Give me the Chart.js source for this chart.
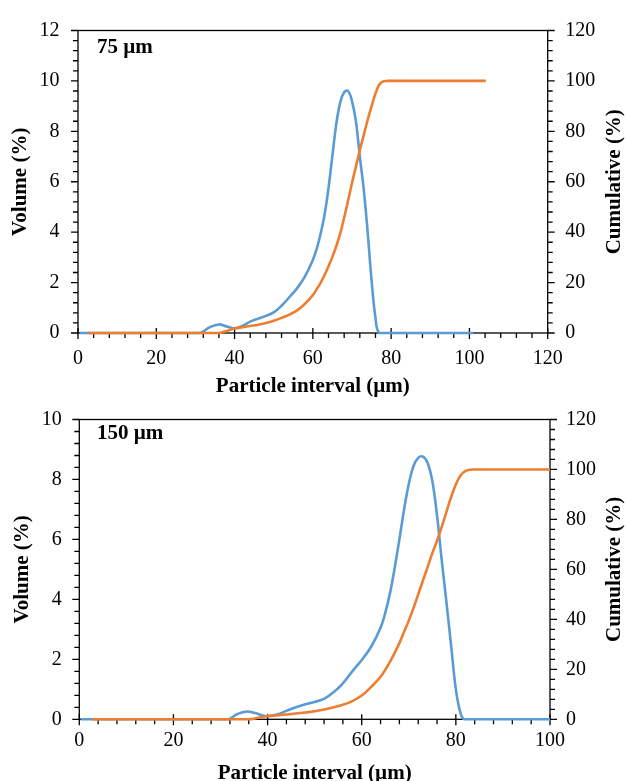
<!DOCTYPE html>
<html><head><meta charset="utf-8">
<script src="https://cdn.jsdelivr.net/npm/chart.js@4.4.1/dist/chart.umd.min.js"></script>
<style>
html,body{margin:0;padding:0;background:#fff;overflow:hidden;width:627px;height:781px;}
canvas{position:absolute;left:0;}
#c1{top:0;}
#c2{top:390px;}
</style></head><body>
<canvas id="c1" width="627" height="410"></canvas>
<canvas id="c2" width="627" height="410"></canvas>
<script>
// ---- Data ----
const topPanelLabel = '75 µm';
const botPanelLabel = '150 µm';

const topVolSize  = [0.5, 31, 33.5, 36, 38, 40, 42, 44, 46, 48, 50, 52, 54, 56, 58, 60, 61, 62, 63, 64, 65, 66, 67, 68, 69, 70, 71, 72, 73, 74, 75, 76, 77, 80, 101];
const topVolValue = [0, 0, 0.22, 0.34, 0.26, 0.19, 0.28, 0.45, 0.57, 0.68, 0.82, 1.08, 1.42, 1.78, 2.25, 2.9, 3.35, 3.95, 4.7, 5.75, 7.05, 8.3, 9.15, 9.55, 9.6, 9.2, 8.4, 7.0, 5.7, 4.0, 2.1, 0.6, 0, 0, 0];

const topCumSize  = [2.6, 36, 38, 40, 42, 44, 46, 48, 50, 52, 54, 56, 58, 60, 61, 62, 63, 64, 65, 66, 67, 68, 69, 70, 71, 72, 73, 74, 75, 76, 77, 78, 79, 82, 104.2];
const topCumValue = [0, 0, 0.8, 1.8, 2.3, 2.8, 3.3, 4.0, 4.9, 6.0, 7.3, 9.0, 11.6, 15.0, 17.4, 20.0, 23.0, 26.5, 30.2, 34.5, 39.5, 45.8, 52.5, 59.5, 66.0, 72.5, 78.5, 84.5, 90.0, 95.0, 98.6, 99.8, 100, 100, 100];

const botVolSize  = [0.3, 31.5, 33.5, 35.6, 37.5, 39.8, 42, 44, 46, 48, 50, 52, 54, 56, 58, 60, 62, 64, 65, 66, 67, 68, 69, 70, 71, 72, 73, 74, 75, 76, 77, 78, 79, 80, 81, 81.8, 85, 100];
const botVolValue = [0, 0, 0.17, 0.26, 0.2, 0.1, 0.16, 0.28, 0.4, 0.5, 0.58, 0.68, 0.9, 1.2, 1.6, 1.98, 2.42, 3.05, 3.55, 4.2, 5.05, 6.0, 7.0, 7.85, 8.45, 8.72, 8.76, 8.55, 7.95, 6.8, 5.3, 3.9, 2.45, 1.0, 0.2, 0, 0, 0];

const botCumSize  = [2.8, 36, 38, 40, 44, 48, 52, 56, 58, 60, 62, 64, 66, 68, 69, 70, 71, 72, 73, 74, 75, 76, 77, 78, 79, 80, 81, 82, 83, 84, 87, 100];
const botCumValue = [0, 0, 0.6, 1.3, 1.9, 2.7, 3.9, 5.8, 7.3, 9.5, 13, 17, 23, 30.5, 35, 39.5, 44.5, 50, 55.5, 61, 66.5, 71.5, 77, 83, 89, 94, 97.6, 99.3, 99.9, 100, 100, 100];

const topXTicks = [0, 20, 40, 60, 80, 100, 120];
const botXTicks = [0, 20, 40, 60, 80, 100];
const topYTicks = [0, 2, 4, 6, 8, 10, 12];
const botYTicks = [0, 2, 4, 6, 8, 10];
const cumTicks  = [0, 20, 40, 60, 80, 100, 120];

// ---- Rendering ----
const FONT = '"Liberation Serif", "Times New Roman", serif';
const INK = '#000';
const BLUE = '#5B9BD5';
const ORANGE = '#ED7D31';

function pts(xs, ys) { return xs.map((x, i) => ({x: x, y: ys[i]})); }

const frameTicks = {
  id: 'frameTicks',
  beforeDatasetsDraw(chart, args, o) {
    const {ctx, chartArea: a, scales} = chart;
    ctx.save();
    ctx.strokeStyle = INK;
    ctx.lineWidth = 1.3;
    ctx.strokeRect(a.left, a.top, a.right - a.left, a.bottom - a.top);
    ctx.beginPath();
    const xs = scales.x;
    const nx = Math.round((xs.max - xs.min) / o.xMinor);
    for (let i = 0; i <= nx; i++) {
      const px = xs.getPixelForValue(xs.min + i * o.xMinor);
      const major = i % o.xPer === 0;
      ctx.moveTo(px, a.bottom - (major ? 5 : 0));
      ctx.lineTo(px, a.bottom + (major ? 6 : 5));
    }
    const yl = scales.y;
    const nyl = Math.round((yl.max - yl.min) / o.yMinor);
    for (let i = 0; i <= nyl; i++) {
      const py = yl.getPixelForValue(yl.min + i * o.yMinor);
      const major = i % 5 === 0;
      ctx.moveTo(a.left, py);
      ctx.lineTo(a.left - (major ? 7 : 5), py);
    }
    const yr = scales.y2;
    const nyr = Math.round((yr.max - yr.min) / 4);
    for (let i = 0; i <= nyr; i++) {
      const py = yr.getPixelForValue(yr.min + i * 4);
      const major = i % 5 === 0;
      ctx.moveTo(a.right, py);
      ctx.lineTo(a.right + (major ? 7 : 5), py);
    }
    ctx.stroke();
    ctx.restore();
  },
  afterDraw(chart, args, o) {
    const {ctx, chartArea: a} = chart;
    ctx.save();
    ctx.fillStyle = INK;
    ctx.font = 'bold 21px ' + FONT;
    ctx.textAlign = 'left';
    ctx.textBaseline = 'alphabetic';
    ctx.fillText(o.panel, o.panelX, o.panelY);
    ctx.translate(o.rightTitleX, (a.top + a.bottom) / 2);
    ctx.rotate(-Math.PI / 2);
    ctx.textAlign = 'center';
    ctx.textBaseline = 'middle';
    ctx.fillText('Cumulative (%)', 0, 0);
    ctx.restore();
  }
};

function makeChart(id, c) {
  const tickFont = {family: FONT, size: 20};
  const titleFont = {family: FONT, size: 21, weight: 'bold'};
  return new Chart(document.getElementById(id), {
    type: 'scatter',
    data: {
      datasets: [
        {label: 'Volume (%)', data: pts(c.volX, c.volY), yAxisID: 'y', showLine: true,
         borderColor: BLUE, borderWidth: 2.6, pointRadius: 0, tension: 0.4,
         fill: false, order: 2, clip: 6},
        {label: 'Cumulative (%)', data: pts(c.cumX, c.cumY), yAxisID: 'y2', showLine: true,
         borderColor: ORANGE, borderWidth: 2.6, pointRadius: 0, tension: 0.4,
         fill: false, order: 1, clip: 6}
      ]
    },
    options: {
      responsive: false,
      animation: false,
      events: [],
      layout: {padding: {top: c.padTop, left: 0, right: 0, bottom: 0}},
      plugins: {
        legend: {display: false},
        tooltip: {enabled: false},
        frameTicks: {xMinor: 4, xPer: 5, yMinor: c.yMinor, panel: c.panel, panelX: 97,
                     panelY: c.panelY, rightTitleX: 615}
      },
      scales: {
        x: {
          type: 'linear', position: 'bottom', min: 0, max: c.xMax,
          afterBuildTicks: s => { s.ticks = c.xTicks.map(v => ({value: v})); },
          ticks: {font: tickFont, color: INK, padding: c.xPad, maxRotation: 0, autoSkip: false},
          grid: {display: false, drawTicks: false},
          border: {display: false},
          title: {display: true, text: 'Particle interval (µm)', font: titleFont, color: INK,
                  padding: {top: 0, bottom: c.xTitlePad}},
          afterFit: s => { s.height = c.xH; }
        },
        y: {
          type: 'linear', position: 'left', min: 0, max: c.yMax,
          afterBuildTicks: s => { s.ticks = c.yTicks.map(v => ({value: v})); },
          ticks: {font: tickFont, color: INK, padding: c.yPad},
          grid: {display: false, drawTicks: false},
          border: {display: false},
          title: {display: true, text: 'Volume (%)', font: titleFont, color: INK,
                  padding: {top: c.yTitlePad, bottom: 0}},
          afterFit: s => { s.width = c.yW; }
        },
        y2: {
          type: 'linear', position: 'right', min: 0, max: 120,
          afterBuildTicks: s => { s.ticks = cumTicks.map(v => ({value: v})); },
          ticks: {font: tickFont, color: INK, padding: c.y2Pad},
          grid: {display: false, drawTicks: false},
          border: {display: false},
          afterFit: s => { s.width = c.y2W; }
        }
      }
    },
    plugins: [frameTicks]
  });
}

makeChart('c1', {
  volX: topVolSize, volY: topVolValue, cumX: topCumSize, cumY: topCumValue,
  xMax: 120, yMax: 12, yMinor: 0.4, xTicks: topXTicks, yTicks: topYTicks,
  padTop: 19.5, xH: 77, yW: 78, y2W: 79.3, xPad: 14, yPad: 18.5, y2Pad: 17.5,
  xTitlePad: 10.6, yTitlePad: 8, panel: topPanelLabel, panelY: 52.7
});
makeChart('c2', {
  volX: botVolSize, volY: botVolValue, cumX: botCumSize, cumY: botCumValue,
  xMax: 100, yMax: 10, yMinor: 0.4, xTicks: botXTicks, yTicks: botYTicks,
  padTop: 15, xH: 80.7, yW: 79.3, y2W: 77, xPad: 9.7, yPad: 17.5, y2Pad: 16,
  xTitlePad: 13.9, yTitlePad: 9.6, panel: botPanelLabel, panelY: 49.3
});
</script>
</body></html>
